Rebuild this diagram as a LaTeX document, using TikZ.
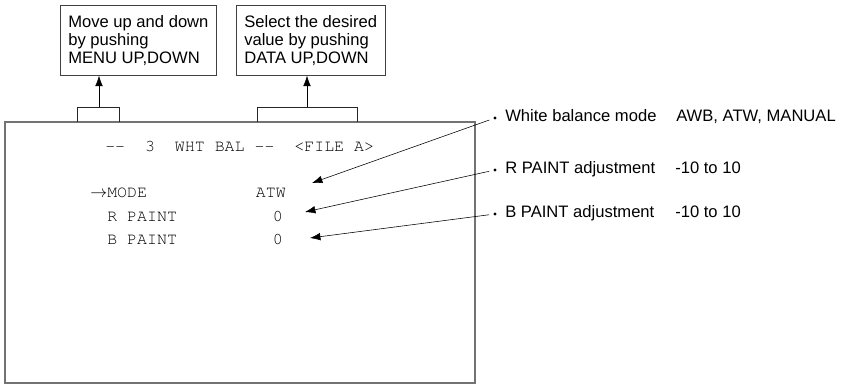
\documentclass[tikz,border=0pt]{standalone}
\usepackage{fontspec}
\setmainfont{Liberation Sans}
\usetikzlibrary{arrows.meta}

\tikzset{
  note/.style={draw=black!75,align=left,anchor=north west,inner xsep=0.2cm,
    inner ysep=0.25cm,font=\fontsize{11.8}{12.8}\selectfont},
  osd/.style={inner sep=0,anchor=base west,
    font=\fontencoding{T1}\fontfamily{pcr}\fontsize{11.8}{12.8}\selectfont},
  osdval/.style={osd,anchor=base east},
  item/.style={inner sep=0,anchor=base west,font=\fontsize{11.8}{12.8}\selectfont},
  tagdot/.style={circle,fill,inner sep=0,minimum size=2.2pt},
  callout/.style={->,shorten <=3pt}
}

\begin{document}
\begin{tikzpicture}[>={Latex[length=2.6mm,width=1.9mm]}]
  \useasboundingbox (0,0) rectangle (21.2,9.625);
  \draw[black!55,line width=0.9pt] (0.125,0.05) rectangle (11.875,6.575);
  \draw[black!85] (1.925,6.575) |- (2.975,6.95) -- (2.975,6.575);
  \draw[black!85] (6.425,6.575) |- (8.925,6.95) -- (8.925,6.575);
  \coordinate (menutab) at (2.475,6.95);
  \coordinate (datatab) at (7.675,6.95);
  \node[note] (menubox) at (1.5,9.5) {Move up and down\\by pushing\\MENU UP,DOWN};
  \node[note] (databox) at (5.9,9.5) {Select the desired\\value by pushing\\DATA UP,DOWN};
  \draw[->] (menutab) -- (menutab |- menubox.south);
  \draw[->] (datatab) -- (datatab |- databox.south);

  \node[osd] (title) at (2.625,5.83) {{-}{-}\ \ 3\ \ WHT BAL {-}{-}\ \ <FILE A>};
  \node[osd] (moderow) at (2.675,4.675) {\llap{$\rightarrow$}MODE};
  \node[osd] (rrow) at (2.675,4.09) {R PAINT};
  \node[osd] (brow) at (2.675,3.5) {B PAINT};
  \node[osdval] (modeval) at (7.15,4.675) {ATW};
  \node[osdval] (rval) at (7.075,4.09) {0};
  \node[osdval] (bval) at (7.075,3.5) {0};
  \coordinate (modetip) at (7.8,5.05);
  \coordinate (rtip) at (7.625,4.325);
  \coordinate (btip) at (7.75,3.675);

  \node[tagdot] (wbdot) at (12.375,6.675) {};
  \node[item] (wblabel) at (12.625,6.575) {White balance mode};
  \node[item] (wbrange) at (16.9,6.575) {AWB, ATW, MANUAL};
  \node[tagdot] (rdot) at (12.375,5.375) {};
  \node[item] (rlabel) at (12.625,5.275) {R PAINT adjustment};
  \node[item] (rrange) at (16.875,5.275) {-10 to 10};
  \node[tagdot] (bdot) at (12.375,4.275) {};
  \node[item] (blabel) at (12.625,4.175) {B PAINT adjustment};
  \node[item] (brange) at (16.875,4.175) {-10 to 10};
  \draw[callout] (wbdot) -- (modetip);
  \draw[callout] (rdot) -- (rtip);
  \draw[callout] (bdot) -- (btip);
\end{tikzpicture}
\end{document}
